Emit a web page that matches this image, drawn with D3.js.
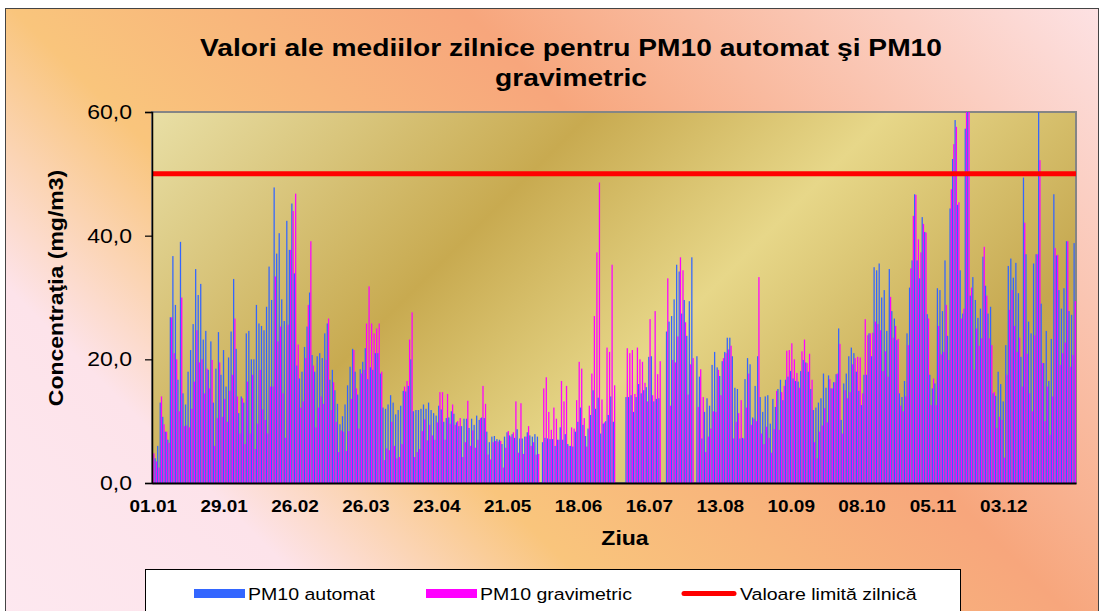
<!DOCTYPE html>
<html>
<head>
<meta charset="utf-8">
<script src="https://cdn.jsdelivr.net/npm/d3@7"></script>
<style>
  body { margin: 0; background: #fff; }
  svg { display: block; font-family: "Liberation Sans", Arial, sans-serif; }
</style>
</head>
<body>
<div id="data-viz"></div>
<script>
// daily means, 365 days, null = no measurement
const automat = [
  4.5,4,6,13,10.7,8.3,7,26.8,36.7,28.8,16.7,39,14.5,12.7,18,21.5,25.7,34.6,30.4,32.2,23.2,24.6,18.3,22.9,13,18.5,24.4,17.5,21.5,15.6,20.3,24.5,33,21.7,11.3,14,13,24.2,24.6,20,20,28.8,25.8,25.4,24.7,
  28.5,35,29.6,47.8,37.1,40.4,29.7,26.2,42.4,37.7,45.2,33.9,19,16.9,18,22,25.3,30.8,20.7,18,20.5,21,20.2,24.2,25.8,16.7,18.3,15,12.8,9.5,10.8,12.7,15.8,18.8,21.7,18,14.3,18.4,19.6,21.8,16.8,18.7,18.3,21,21,17.7,
  12.2,12,12.7,14.2,13,11.1,11.8,12.5,14.9,14.8,15.7,20,11.6,11.8,11.8,12,12.7,12,13,11.8,11.3,10.9,12.5,11.9,9.9,10.5,10.6,11.6,11.2,9.8,9.2,9.2,10.4,10.4,8.9,10.4,9.4,10.9,10.2,10.6,10.5,8.3,6.6,7.5,7.6,7.1,
  7,6.3,7.5,8.2,7.7,7.9,7.3,8.7,7.2,7.2,7.5,8.2,7.7,7.5,7.9,7.5,null,6.6,7.3,7.2,7.1,7.1,6,7,9,7,7.9,6.3,6,5.9,8.3,9.9,12.2,9.4,7.6,8.8,11,15,12,13.8,8,9.6,10,11,14,9.9,
  null,null,null,null,13.9,13.9,14.2,11.5,13.9,16,14.5,15,15.5,20.4,20.5,13.2,13.6,13.7,null,null,24.5,26.1,27,29.7,35.3,34.2,27.4,29.6,23.8,29.4,36.5,null,20.5,17.2,7.2,11.5,13.7,12.5,19.1,21.2,18.7,17.3,19.7,21.2,23.5,23.5,
  20.5,15.4,15.2,7.2,7.3,16.8,20.2,19.2,10.6,15.7,20.5,13.9,11.5,14,14.2,9.6,13.6,12.3,15.2,16.7,13.4,16.7,17.2,18.1,16.9,16.5,16.4,18.1,19.9,19.5,18,15.2,11.8,12.2,13,13.7,17.7,15.4,17.4,15.3,16.3,17.6,25,10.2,16.1,17.7,
  20.5,21.9,21,18,14.9,12.6,17.5,17.5,24.2,20.5,34.9,34.4,35.5,30,31.2,24.6,34.6,27.8,26.6,23.1,14.5,13.9,16.5,24.2,31.6,36,46.7,36,33.1,43,40.6,27.3,17.5,15.3,16.1,31.5,31.2,27.8,36,23.8,44.4,52.4,58.7,45,34.4,27.4,
  57.3,62,30.3,33.3,29.6,26.7,28.2,36.6,31.9,27.4,28.5,14.5,14.1,18,16,13.2,22.3,35.1,36.3,33.2,35.6,30.7,20.4,49.4,37,26.1,24.2,35.5,37,62,29,19.4,24.6,16.5,23.3,46.7,36.8,31.2,28.2,31.5,39.1,27.8,27.2,38.8
]
const gravimetric = [
  4.8,3.5,2.5,14,9.5,8.3,6.5,26.8,21,20,11.6,30,9.2,9.3,9,12,16.4,24.7,19.5,20,14.5,18.5,15.3,19.9,6,10.5,19.5,10.7,13.6,9.9,14.9,17.5,26.6,14,8,13.7,6.3,16.4,8,17.5,5.5,9.6,18.3,11.9,10.2,
  8,15.6,15.6,33.4,22.9,25.3,14.5,7.3,25.6,37.7,44,46.8,22.4,12.2,13.2,20.2,28.8,39.1,19,9,12.2,14,12.8,19.9,26.6,11.8,16.3,9.9,5,8.5,8.3,5.2,8.4,13.6,21.5,15.3,8.8,17.7,18.3,25.8,31.8,25.8,24.2,25,25.8,18,
  3.7,5.6,5.3,9.9,6,4,4.2,6.3,15.6,16.5,23.2,27.6,4.2,5,5.5,8.4,10.3,6.9,9.4,7.7,7,9.8,14.7,14.7,7,14.4,9.6,12.7,9.4,10,10.5,4.2,6.6,13.3,6,8.5,5.7,7,10.5,15.7,12.8,4.6,3.8,6.6,6.8,6.7,
  6.8,2.5,5.7,8.4,7.5,8.2,13.2,4.9,12.9,4.7,7.5,9.2,6,6.6,4.6,4.7,null,15.3,17.1,11.5,8.6,12.2,10.4,7,16.5,13.2,15.7,6,9,8.8,13.4,19.6,18.5,10.5,5.9,12.5,17.7,27,37.3,48.6,13.5,9.8,21.9,21.2,35.3,15.8,
  null,null,null,null,21.8,21,21.5,14.4,21.9,20,19.6,16.2,13.2,26.5,14.2,27.8,17.6,19.7,null,null,33.1,12.5,19.9,19.5,23.7,36.5,34.4,26,14.3,19.2,20.2,null,12.3,18.4,13.9,5,7.5,8.8,11.6,11.5,18.3,14.2,20.2,21,21.6,22.2,
  7.2,9.9,11.3,13.4,7.2,12.2,17.7,9.4,10.4,10,33.3,8,6.3,9.1,7.3,4.9,8.7,14.9,8.6,14.7,15.7,21.4,21.5,22.6,20,17.8,15.4,21.3,23.2,19.4,20.9,16.7,6.6,4,8.3,9.3,12.1,9.8,16.8,15.3,16.3,17.7,22.5,8,15,13.7,
  14.7,19.2,20.2,20.4,20.3,14.5,26.5,23.9,24.2,24.3,26.1,25.7,24.7,18.1,21.3,17.2,30.1,23.5,25.4,23.3,12.5,11.6,14,22.3,34.7,43.2,46.6,39.4,37.3,41.9,40.5,26.6,12.6,16.9,12.6,25.4,20.8,21.2,28.8,19.9,47.5,54.8,57.6,45.4,26.6,28.2,
  62,63,31.6,18.3,25,22.2,23.4,38.2,30.3,23.4,22.3,14.7,8.9,10.7,10.2,4.1,17.5,28,31.2,25.4,21.2,23.5,15.6,42.1,20.9,14.5,11.6,23.9,37,52.2,19.4,10,15.6,7.8,14,38,36.9,19.1,21,22.7,39.1,18.8,20.7,29.4
]
const tickLabels = ["01.01","29.01","26.02","26.03","23.04","21.05","18.06","16.07","13.08","10.09","08.10","05.11","03.12"]
const yTicks = [0, 20, 40, 60]
const limitValue = 50
const seriesKeys = ["automat", "gravimetric"]
const legendLabels = ["PM10 automat", "PM10 gravimetric", "Valoare limită zilnică"]

function drawChart() {
    const width = 1104
    const height = 611
    const stretch = 1.15   // the original text is drawn horizontally widened

    let dimensions = {
        width: width,
        height: height,
        margin: { top: 112, right: 28, bottom: 128, left: 152 }
    }
    dimensions.boundedWidth = dimensions.width - dimensions.margin.left - dimensions.margin.right
    dimensions.boundedHeight = dimensions.height - dimensions.margin.top - dimensions.margin.bottom

    const colors = { automat: "#3366ff", gravimetric: "#ff00ff", limit: "#ff0000" }

    const fmtDay = d3.timeFormat("%d.%m")
    const days = d3.timeDay.range(new Date(2009, 0, 1), new Date(2010, 0, 1)).map(fmtDay)
    const rows = days.map((d, i) => ({ day: d, automat: automat[i], gravimetric: gravimetric[i] }))

    const wrapper = d3.select("#data-viz").append("svg")
        .attr("width", dimensions.width)
        .attr("height", dimensions.height)

    const defs = wrapper.append("defs")

    const bgGrad = defs.append("linearGradient")
        .attr("id", "bg-grad").attr("gradientUnits", "userSpaceOnUse")
        .attr("x1", -350).attr("y1", 350).attr("x2", 700).attr("y2", -700)
    ;[[0, "#fde9f1"], [0.2, "#fde3ea"], [0.335, "#f9c57c"], [0.55, "#f7a67c"], [0.86, "#fde3e6"], [1, "#fde6ea"]]
        .forEach(s => bgGrad.append("stop").attr("offset", s[0]).attr("stop-color", s[1]))

    const plotGrad = defs.append("linearGradient")
        .attr("id", "plot-grad").attr("gradientUnits", "userSpaceOnUse")
        .attr("x1", 0).attr("y1", 0).attr("x2", 800).attr("y2", 800)
    ;[[0, "#efe8bc"], [0.17, "#e8dea4"], [0.44, "#c8aa50"], [0.625, "#e7d789"], [0.84, "#c5a74f"], [1, "#ccaf58"]]
        .forEach(s => plotGrad.append("stop").attr("offset", s[0]).attr("stop-color", s[1]))

    // chart area
    wrapper.append("rect")
        .attr("x", 5.5).attr("y", 8.5)
        .attr("width", 1093).attr("height", 660)
        .attr("fill", "url(#bg-grad)")
        .attr("stroke", "#444").attr("stroke-width", 1)

    function addText(parent, x, y, str, size, weight, anchor) {
        return parent.append("text")
            .attr("x", x / stretch).attr("y", y)
            .attr("transform", `scale(${stretch},1)`)
            .attr("font-size", size).attr("font-weight", weight)
            .attr("text-anchor", anchor)
            .attr("fill", "#000")
            .text(str)
    }

    addText(wrapper, 571, 56, "Valori ale mediilor zilnice pentru PM10 automat şi PM10", 24.5, "bold", "middle")
    addText(wrapper, 571, 86, "gravimetric", 24.5, "bold", "middle")

    // plot area background
    wrapper.append("rect")
        .attr("x", dimensions.margin.left).attr("y", dimensions.margin.top)
        .attr("width", dimensions.boundedWidth).attr("height", dimensions.boundedHeight)
        .attr("fill", "url(#plot-grad)")
        .attr("stroke", "#858585").attr("stroke-width", 2)

    const chart = wrapper.append("g")
        .attr("transform", `translate(${dimensions.margin.left}, ${dimensions.margin.top})`)

    const xScale = d3.scaleBand()
        .domain(days)
        .range([0, dimensions.boundedWidth])
        .padding(0)
    const seriesScale = d3.scaleBand()
        .domain(seriesKeys)
        .range([0, xScale.bandwidth()])
    const yScale = d3.scaleLinear()
        .domain([0, 60])
        .range([dimensions.boundedHeight, 0])
        .clamp(true)

    chart.append("g").attr("class", "bars")
        .selectAll("g")
        .data(rows)
        .join("g")
            .attr("transform", d => `translate(${xScale(d.day)},0)`)
        .selectAll("rect")
        .data(d => seriesKeys.map(k => ({ key: k, value: d[k] })).filter(v => v.value != null))
        .join("rect")
            .attr("x", d => seriesScale(d.key))
            .attr("width", seriesScale.bandwidth())
            .attr("y", d => yScale(d.value))
            .attr("height", d => dimensions.boundedHeight - yScale(d.value))
            .attr("fill", d => colors[d.key])

    chart.append("line")
        .attr("x1", 0).attr("x2", dimensions.boundedWidth)
        .attr("y1", yScale(limitValue)).attr("y2", yScale(limitValue))
        .attr("stroke", colors.limit).attr("stroke-width", 5)

    // axes
    const yAxis = chart.append("g")
        .call(d3.axisLeft(yScale)
            .tickValues(yTicks)
            .tickSize(7)
            .tickPadding(13)
            .tickFormat(d => d3.format(".1f")(d).replace(".", ",")))
    yAxis.select(".domain").attr("stroke", "#000").attr("stroke-width", 1.5)
    yAxis.selectAll(".tick line").attr("stroke", "#000").attr("stroke-width", 1.2)
    yAxis.selectAll(".tick text")
        .attr("font-family", "Liberation Sans, Arial, sans-serif")
        .attr("font-size", 20).attr("fill", "#000")
        .each(function () {
            const t = d3.select(this)
            t.attr("x", +t.attr("x") / stretch).attr("transform", `scale(${stretch},1)`)
        })

    const xAxis = chart.append("g")
        .attr("transform", `translate(0, ${dimensions.boundedHeight})`)
        .call(d3.axisBottom(xScale)
            .tickValues(tickLabels)
            .tickSize(0)
            .tickPadding(17))
    xAxis.select(".domain").attr("stroke", "#000").attr("stroke-width", 2)
    xAxis.selectAll(".tick text")
        .attr("font-family", "Liberation Sans, Arial, sans-serif")
        .attr("font-size", 16.5).attr("font-weight", "bold").attr("fill", "#000")
        .attr("transform", `scale(${stretch},1)`)
        .each(function () {
            const t = d3.select(this.parentNode)
            const tx = +t.attr("transform").match(/translate\(([-\d.]+)/)[1]
            t.attr("transform", `translate(${tx},0)`)
        })

    addText(wrapper, 625, 545, "Ziua", 20, "bold", "middle")

    wrapper.append("text")
        .attr("transform", `translate(56, 288) rotate(-90) scale(${stretch},1)`)
        .attr("dy", "0.35em")
        .attr("text-anchor", "middle")
        .attr("font-size", 20).attr("font-weight", "bold")
        .text("Concentraţia (mg/m3)")

    // legend
    const legend = wrapper.append("g")
    legend.append("rect")
        .attr("x", 145.5).attr("y", 569.5)
        .attr("width", 815).attr("height", 70)
        .attr("fill", "#fff").attr("stroke", "#000").attr("stroke-width", 1)

    const legendX = [194, 426, 681]
    legend.append("rect").attr("x", legendX[0]).attr("y", 589).attr("width", 51).attr("height", 9).attr("fill", colors.automat)
    legend.append("rect").attr("x", legendX[1]).attr("y", 589).attr("width", 51).attr("height", 9).attr("fill", colors.gravimetric)
    legend.append("line")
        .attr("x1", legendX[2] + 3).attr("x2", legendX[2] + 53)
        .attr("y1", 593.5).attr("y2", 593.5)
        .attr("stroke", colors.limit).attr("stroke-width", 5).attr("stroke-linecap", "round")
    legendLabels.forEach((label, i) => {
        addText(legend, legendX[i] + (i === 2 ? 59 : 54), 600, label, 17, "normal", "start")
    })
}

drawChart()
</script>
</body>
</html>
